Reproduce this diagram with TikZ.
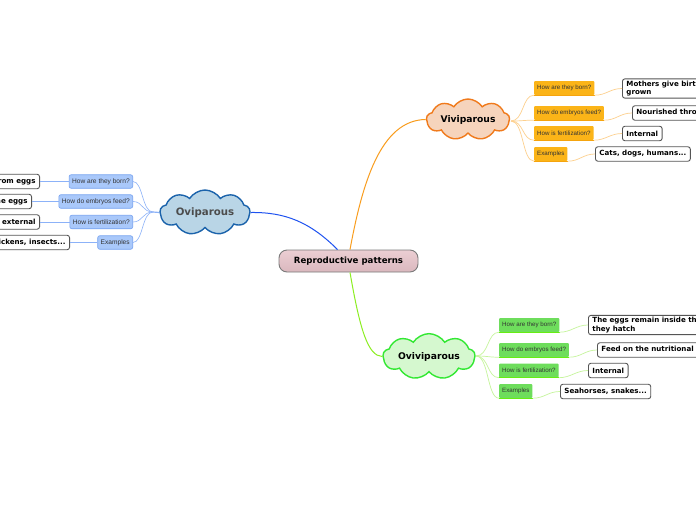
\documentclass[tikz,border=0pt]{standalone}
\usepackage{fontspec}
\setmainfont{DejaVu Sans}
\newfontfamily\labfont{Liberation Sans}
\usetikzlibrary{shapes.symbols,calc}
\definecolor{cenfill}{HTML}{E6C2C8}
\definecolor{cenline}{HTML}{7A7A7A}
\definecolor{bluefill}{HTML}{B9D5E6}
\definecolor{blueline}{HTML}{1B63AB}
\definecolor{bluemain}{HTML}{1E52F0}
\definecolor{bluelab}{HTML}{A9C8FA}
\definecolor{bluelabline}{HTML}{76A2F0}
\definecolor{bluecon}{HTML}{8CB2F8}
\definecolor{orfill}{HTML}{F6D4BC}
\definecolor{orline}{HTML}{F07A1C}
\definecolor{ormain}{HTML}{F99D1E}
\definecolor{orlab}{HTML}{FBB418}
\definecolor{orcon}{HTML}{FDD08E}
\definecolor{orunder}{HTML}{F5A40E}
\definecolor{grfill}{HTML}{D5F8CF}
\definecolor{grline}{HTML}{33E833}
\definecolor{grmain}{HTML}{8CEE22}
\definecolor{grlab}{HTML}{6EDD5C}
\definecolor{grcon}{HTML}{C6F59C}
\definecolor{grunder}{HTML}{66EE11}
\definecolor{leafline}{HTML}{555555}
\begin{document}
\begin{tikzpicture}[x=1pt,y=-1pt,
  cloudbox/.style={cloud, cloud puffs=9, cloud puff arc=115, aspect=2.8, draw, line width=1.4pt, inner sep=0pt, font=\fontsize{9.2}{10}\selectfont\bfseries},
  leaf/.style={draw=leafline, line width=0.9pt, fill=white, rounded corners=2.5pt, inner xsep=4pt, inner ysep=2pt, minimum height=14.5pt, font=\fontsize{7.1}{8.4}\selectfont\bfseries, align=left},
  bluelabel/.style={draw=bluelabline, line width=0.6pt, fill=bluelab, rounded corners=2pt, minimum height=13.5pt, inner xsep=3pt, inner ysep=0pt, font=\labfont\fontsize{6.6}{7}\selectfont, text=black!80},
  orlabel/.style={fill=orlab, rounded corners=1pt, minimum height=14pt, inner xsep=3pt, inner ysep=0pt, font=\labfont\fontsize{6.2}{7}\selectfont, text=black!80},
  grlabel/.style={fill=grlab, rounded corners=1pt, minimum height=14pt, inner xsep=3pt, inner ysep=0pt, font=\labfont\fontsize{6.2}{7}\selectfont, text=black!80},
  bcon/.style={draw=bluecon, line width=0.6pt},
  ocon/.style={draw=orcon, line width=0.7pt},
  gcon/.style={draw=grcon, line width=0.7pt}
]
\useasboundingbox (0,0) rectangle (696,520);
\fill[white] (0,0) rectangle (696,520);

% central
\node[draw=cenline, line width=0.9pt, top color=cenfill!80!white, bottom color=cenfill!95!black, rounded corners=8pt, minimum width=139pt, minimum height=22pt, inner sep=0pt, font=\fontsize{8.6}{10}\selectfont\bfseries] (cen) at (348.5,261) {Reproductive patterns};

% clouds
\node[cloudbox, fill=bluefill, draw=blueline, text=black!70, minimum width=90pt, minimum height=45pt, font=\fontsize{10.2}{11}\selectfont\bfseries] (ovi) at (205,212.5) {Oviparous};
\node[cloudbox, fill=orfill, draw=orline, minimum width=83pt, minimum height=41pt] (viv) at (468,119.5) {Viviparous};
\node[cloudbox, fill=grfill, draw=grline, minimum width=92pt, minimum height=41pt] (ovv) at (429,356.5) {Oviviparous};

% main connectors
\draw[bluemain, line width=1pt] ($(cen.north)+(-11,0)$) .. controls (310,222) and (285,212) .. (ovi.east);
\draw[ormain, line width=1pt] ($(cen.north)+(1.5,0)$) .. controls (362,185) and (380,120) .. (viv.west);
\draw[grmain, line width=1pt] ($(cen.south)+(1.5,0)$) .. controls (360,330) and (368,356) .. (ovv.west);

% ---- Oviparous (left)
\coordinate (lf) at (153,212);
\draw[bluecon, line width=1.2pt] (ovi.west) -- (lf);
\node[bluelabel, anchor=east] (b1) at (133,181.5) {How are they born?};
\node[bluelabel, anchor=east] (b2) at (133,201.5) {How do embryos feed?};
\node[bluelabel, anchor=east] (b3) at (133,222) {How is fertilization?};
\node[bluelabel, anchor=east] (b4) at (133,242.5) {Examples};
\foreach \n in {b1,b2,b3,b4}{\draw[bcon] (lf) .. controls (142,212) and ($(\n.east)+(10,0)$) .. (\n.east);}
\node[leaf, anchor=east] (bl1) at (40,181.5) {Are born from eggs};
\node[leaf, anchor=east] (bl2) at (32,201.5) {Feed on the eggs};
\node[leaf, anchor=east] (bl3) at (40,222) {Fertilization is external};
\node[leaf, anchor=east] (bl4) at (70,242.5) {Birds, chickens, insects...};
\draw[bcon] (b1.west) -- (bl1.east);
\draw[bcon] (b2.west) -- (bl2.east);
\draw[bcon] (b3.west) -- (bl3.east);
\draw[bcon] (b4.west) -- (bl4.east);

% ---- Viviparous (right top)
\coordinate (vf) at (511,121);
\node[orlabel, anchor=west] (o1) at (534,88) {How are they born?};
\node[orlabel, anchor=west] (o2) at (534,113) {How do embryos feed?};
\node[orlabel, anchor=west] (o3) at (534,133) {How is fertilization?};
\node[orlabel, anchor=west] (o4) at (534,154) {Examples};
\foreach \n in {o1,o2,o3,o4}{
  \draw[ocon] (vf) .. controls (524,121) and ($(\n.south west)+(-12,0)$) .. (\n.south west);
  \draw[orunder, line width=0.8pt] (\n.south west) -- (\n.south east);}
\node[leaf, anchor=west] (ol1) at (622,88.5) {Mothers give birth to fully\\grown};
\node[leaf, anchor=west] (ol2) at (632,113) {Nourished through the placenta};
\node[leaf, anchor=west] (ol3) at (622,133.5) {Internal};
\node[leaf, anchor=west] (ol4) at (595,154) {Cats, dogs, humans...};
\foreach \a/\b in {o1/ol1,o2/ol2,o3/ol3,o4/ol4}{
  \draw[ocon] (\a.south east) .. controls ($(\a.south east)+(12,0)$) and ($(\b.west)+(-12,0)$) .. (\b.west);}

% ---- Oviviparous (right bottom)
\coordinate (gf) at (476,356);
\node[grlabel, anchor=west] (g1) at (499,325) {How are they born?};
\node[grlabel, anchor=west] (g2) at (499,350) {How do embryos feed?};
\node[grlabel, anchor=west] (g3) at (499,370.5) {How is fertilization?};
\node[grlabel, anchor=west] (g4) at (499,391) {Examples};
\foreach \n in {g1,g2,g3,g4}{
  \draw[gcon] (gf) .. controls (489,356) and ($(\n.south west)+(-12,0)$) .. (\n.south west);
  \draw[grunder, line width=0.9pt] (\n.south west) -- (\n.south east);}
\node[leaf, anchor=west] (gl1) at (588,325) {The eggs remain inside the mother until\\they hatch};
\node[leaf, anchor=west] (gl2) at (597,350) {Feed on the nutritional reserves of the egg};
\node[leaf, anchor=west] (gl3) at (588,370.5) {Internal};
\node[leaf, anchor=west] (gl4) at (560,391.5) {Seahorses, snakes...};
\foreach \a/\b in {g1/gl1,g2/gl2,g3/gl3,g4/gl4}{
  \draw[gcon] (\a.south east) .. controls ($(\a.south east)+(12,0)$) and ($(\b.west)+(-12,0)$) .. (\b.west);}
\end{tikzpicture}
\end{document}
